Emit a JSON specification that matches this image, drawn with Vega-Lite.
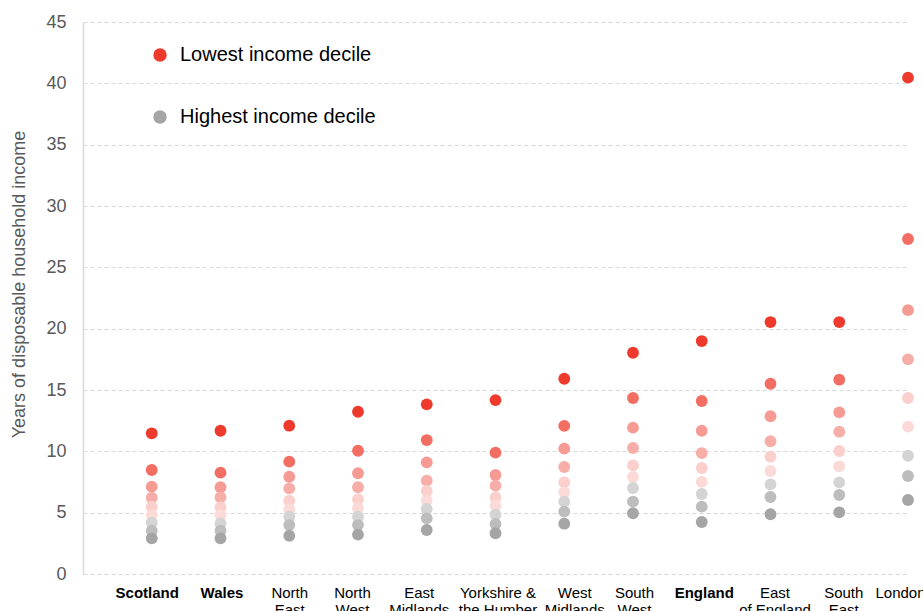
{
  "$schema": "https://vega.github.io/schema/vega-lite/v6.json",
  "autosize": {"type": "none"},
  "padding": {"left": 83, "top": 22, "right": 15, "bottom": 37},
  "width": 825,
  "height": 552,
  "background": "white",
  "config": {
    "view": {"stroke": null},
    "font": "Liberation Sans"
  },
  "datasets": {
    "main": [
      {"region": "Scotland", "decile": "1", "years": 11.47},
      {"region": "Scotland", "decile": "2", "years": 8.48},
      {"region": "Scotland", "decile": "3", "years": 7.12},
      {"region": "Scotland", "decile": "4", "years": 6.22},
      {"region": "Scotland", "decile": "5", "years": 5.49},
      {"region": "Scotland", "decile": "6", "years": 4.81},
      {"region": "Scotland", "decile": "7", "years": 4.18},
      {"region": "Scotland", "decile": "8", "years": 3.53},
      {"region": "Scotland", "decile": "9", "years": 2.91},
      {"region": "Wales", "decile": "1", "years": 11.68},
      {"region": "Wales", "decile": "2", "years": 8.26},
      {"region": "Wales", "decile": "3", "years": 7.07},
      {"region": "Wales", "decile": "4", "years": 6.25},
      {"region": "Wales", "decile": "5", "years": 5.44},
      {"region": "Wales", "decile": "6", "years": 4.81},
      {"region": "Wales", "decile": "7", "years": 4.13},
      {"region": "Wales", "decile": "8", "years": 3.53},
      {"region": "Wales", "decile": "9", "years": 2.91},
      {"region": "North|East", "decile": "1", "years": 12.09},
      {"region": "North|East", "decile": "2", "years": 9.16},
      {"region": "North|East", "decile": "3", "years": 7.93},
      {"region": "North|East", "decile": "4", "years": 6.98},
      {"region": "North|East", "decile": "5", "years": 5.98},
      {"region": "North|East", "decile": "6", "years": 5.27},
      {"region": "North|East", "decile": "7", "years": 4.67},
      {"region": "North|East", "decile": "8", "years": 3.99},
      {"region": "North|East", "decile": "9", "years": 3.12},
      {"region": "North|West", "decile": "1", "years": 13.23},
      {"region": "North|West", "decile": "2", "years": 10.05},
      {"region": "North|West", "decile": "3", "years": 8.21},
      {"region": "North|West", "decile": "4", "years": 7.07},
      {"region": "North|West", "decile": "5", "years": 6.09},
      {"region": "North|West", "decile": "6", "years": 5.36},
      {"region": "North|West", "decile": "7", "years": 4.67},
      {"region": "North|West", "decile": "8", "years": 3.99},
      {"region": "North|West", "decile": "9", "years": 3.21},
      {"region": "East|Midlands", "decile": "1", "years": 13.83},
      {"region": "East|Midlands", "decile": "2", "years": 10.92},
      {"region": "East|Midlands", "decile": "3", "years": 9.10},
      {"region": "East|Midlands", "decile": "4", "years": 7.61},
      {"region": "East|Midlands", "decile": "5", "years": 6.77},
      {"region": "East|Midlands", "decile": "6", "years": 5.98},
      {"region": "East|Midlands", "decile": "7", "years": 5.30},
      {"region": "East|Midlands", "decile": "8", "years": 4.54},
      {"region": "East|Midlands", "decile": "9", "years": 3.59},
      {"region": "Yorkshire &|the Humber", "decile": "1", "years": 14.18},
      {"region": "Yorkshire &|the Humber", "decile": "2", "years": 9.89},
      {"region": "Yorkshire &|the Humber", "decile": "3", "years": 8.07},
      {"region": "Yorkshire &|the Humber", "decile": "4", "years": 7.20},
      {"region": "Yorkshire &|the Humber", "decile": "5", "years": 6.25},
      {"region": "Yorkshire &|the Humber", "decile": "6", "years": 5.57},
      {"region": "Yorkshire &|the Humber", "decile": "7", "years": 4.84},
      {"region": "Yorkshire &|the Humber", "decile": "8", "years": 4.08},
      {"region": "Yorkshire &|the Humber", "decile": "9", "years": 3.32},
      {"region": "West|Midlands", "decile": "1", "years": 15.92},
      {"region": "West|Midlands", "decile": "2", "years": 12.07},
      {"region": "West|Midlands", "decile": "3", "years": 10.22},
      {"region": "West|Midlands", "decile": "4", "years": 8.72},
      {"region": "West|Midlands", "decile": "5", "years": 7.47},
      {"region": "West|Midlands", "decile": "6", "years": 6.66},
      {"region": "West|Midlands", "decile": "7", "years": 5.90},
      {"region": "West|Midlands", "decile": "8", "years": 5.08},
      {"region": "West|Midlands", "decile": "9", "years": 4.10},
      {"region": "South|West", "decile": "1", "years": 18.04},
      {"region": "South|West", "decile": "2", "years": 14.35},
      {"region": "South|West", "decile": "3", "years": 11.93},
      {"region": "South|West", "decile": "4", "years": 10.27},
      {"region": "South|West", "decile": "5", "years": 8.86},
      {"region": "South|West", "decile": "6", "years": 7.91},
      {"region": "South|West", "decile": "7", "years": 7.01},
      {"region": "South|West", "decile": "8", "years": 5.90},
      {"region": "South|West", "decile": "9", "years": 4.95},
      {"region": "England", "decile": "1", "years": 18.99},
      {"region": "England", "decile": "2", "years": 14.10},
      {"region": "England", "decile": "3", "years": 11.68},
      {"region": "England", "decile": "4", "years": 9.86},
      {"region": "England", "decile": "5", "years": 8.64},
      {"region": "England", "decile": "6", "years": 7.52},
      {"region": "England", "decile": "7", "years": 6.52},
      {"region": "England", "decile": "8", "years": 5.49},
      {"region": "England", "decile": "9", "years": 4.24},
      {"region": "East|of England", "decile": "1", "years": 20.54},
      {"region": "East|of England", "decile": "2", "years": 15.51},
      {"region": "East|of England", "decile": "3", "years": 12.86},
      {"region": "East|of England", "decile": "4", "years": 10.82},
      {"region": "East|of England", "decile": "5", "years": 9.56},
      {"region": "East|of England", "decile": "6", "years": 8.40},
      {"region": "East|of England", "decile": "7", "years": 7.31},
      {"region": "East|of England", "decile": "8", "years": 6.28},
      {"region": "East|of England", "decile": "9", "years": 4.87},
      {"region": "South|East", "decile": "1", "years": 20.54},
      {"region": "South|East", "decile": "2", "years": 15.84},
      {"region": "South|East", "decile": "3", "years": 13.18},
      {"region": "South|East", "decile": "4", "years": 11.60},
      {"region": "South|East", "decile": "5", "years": 10.03},
      {"region": "South|East", "decile": "6", "years": 8.78},
      {"region": "South|East", "decile": "7", "years": 7.47},
      {"region": "South|East", "decile": "8", "years": 6.44},
      {"region": "South|East", "decile": "9", "years": 5.03},
      {"region": "London", "decile": "1", "years": 40.46},
      {"region": "London", "decile": "2", "years": 27.31},
      {"region": "London", "decile": "3", "years": 21.51},
      {"region": "London", "decile": "4", "years": 17.50},
      {"region": "London", "decile": "5", "years": 14.35},
      {"region": "London", "decile": "6", "years": 12.01},
      {"region": "London", "decile": "7", "years": 9.64},
      {"region": "London", "decile": "8", "years": 7.99},
      {"region": "London", "decile": "9", "years": 6.03}
    ]
  },
  "data": {"name": "main"},
  "mark": {"type": "circle", "size": 140, "opacity": 1},
  "encoding": {
    "x": {
      "field": "region",
      "type": "nominal",
      "sort": null,
      "scale": {
        "type": "point",
        "padding": 0.5,
        "align": 1,
        "domain": ["Scotland", "Wales", "North|East", "North|West", "East|Midlands", "Yorkshire &|the Humber", "West|Midlands", "South|West", "England", "East|of England", "South|East", "London"]
      },
      "axis": {
        "title": null,
        "domain": false,
        "ticks": false,
        "grid": false,
        "labelAngle": 0,
        "labelFontSize": 15,
        "labelColor": "#000000",
        "labelPadding": 11,
        "labelLineHeight": 17,
        "labelExpr": "split(datum.label, '|')",
        "labelFontWeight": {
          "condition": {"test": "indexof(['Scotland','Wales','England'], datum.label) >= 0", "value": "bold"},
          "value": "normal"
        },
        "labelOffset": {
          "condition": [
            {"test": "datum.value == 'Scotland'", "value": -5},
            {"test": "datum.value == 'Wales'", "value": 1},
            {"test": "datum.value == 'North|West'", "value": -6},
            {"test": "datum.value == 'East|Midlands'", "value": -8},
            {"test": "datum.value == 'Yorkshire &|the Humber'", "value": 2},
            {"test": "datum.value == 'West|Midlands'", "value": 10},
            {"test": "datum.value == 'South|West'", "value": 1},
            {"test": "datum.value == 'England'", "value": 2},
            {"test": "datum.value == 'East|of England'", "value": 4},
            {"test": "datum.value == 'South|East'", "value": 4},
            {"test": "datum.value == 'London'", "value": -8}
          ],
          "value": 0
        }
      }
    },
    "y": {
      "field": "years",
      "type": "quantitative",
      "scale": {"domain": [0, 45], "nice": false, "zero": true},
      "axis": {
        "title": "Years of disposable household income",
        "titleFontSize": 18,
        "titleFontWeight": "normal",
        "titleColor": "#595959",
        "titlePadding": 17,
        "titleY": 262,
        "values": [0, 5, 10, 15, 20, 25, 30, 35, 40, 45],
        "labelFontSize": 18,
        "labelColor": "#595959",
        "labelPadding": 17,
        "ticks": false,
        "domain": true,
        "domainColor": "#d9d9d9",
        "domainWidth": 1.5,
        "grid": true,
        "gridColor": "#d9d9d9",
        "gridDash": [4, 3],
        "gridWidth": 1
      }
    },
    "color": {
      "field": "decile",
      "type": "nominal",
      "scale": {
        "domain": ["1", "2", "3", "4", "5", "6", "7", "8", "9"],
        "range": ["#EE3A2C", "#F26D62", "#F59B94", "#F7ADA8", "#FACFCC", "#FBDAD8", "#D4D4D4", "#BDBDBD", "#A5A5A5"]
      },
      "legend": {
        "orient": "none",
        "legendX": 67,
        "legendY": 23,
        "title": null,
        "values": ["1", "9"],
        "symbolType": "circle",
        "symbolSize": 180,
        "symbolStrokeWidth": 0,
        "labelFontSize": 20,
        "labelColor": "#000000",
        "labelLimit": 0,
        "labelOffset": 10,
        "rowPadding": 42,
        "labelExpr": "datum.label == '1' ? 'Lowest income decile' : 'Highest income decile'"
      }
    }
  }
}
